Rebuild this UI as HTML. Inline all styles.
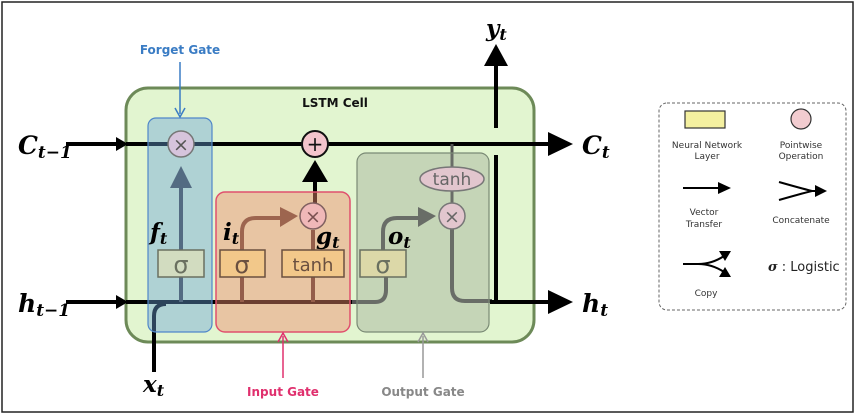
<!DOCTYPE html>
<html><head><meta charset="utf-8"><style>
html,body{margin:0;padding:0;background:#fff;width:856px;height:415px;overflow:hidden}
svg{display:block}
text{font-family:"DejaVu Sans","Liberation Sans",sans-serif}
.m{font-family:"DejaVu Serif","Liberation Serif",serif;font-weight:bold;font-style:italic}
</style></head><body>
<svg width="856" height="415" viewBox="0 0 856 415">
<rect x="2" y="2" width="851" height="410" fill="#fff" stroke="#222" stroke-width="1.5"/>
<!-- cell -->
<rect x="126" y="88" width="408" height="254" rx="22" fill="#e2f5d0" stroke="#6d8a58" stroke-width="3"/>
<text x="335" y="107" font-size="12" font-weight="bold" text-anchor="middle" fill="#111">LSTM Cell</text>
<!-- C line -->
<line x1="66" y1="144" x2="118" y2="144" stroke="#000" stroke-width="4"/>
<path d="M116,137L128,144L116,151z" fill="#000"/>
<line x1="126" y1="144" x2="552" y2="144" stroke="#000" stroke-width="4"/>
<path d="M548,132L573,144L548,156z" fill="#000"/>
<!-- h in -->
<line x1="66" y1="302" x2="118" y2="302" stroke="#000" stroke-width="4"/>
<path d="M116,295L128,302L116,309z" fill="#000"/>
<line x1="126" y1="302" x2="352" y2="302" stroke="#000" stroke-width="4"/>
<path d="M352,302H375Q386,302 386,290V276" fill="none" stroke="#555" stroke-width="4"/>
<!-- x_t -->
<path d="M154,372V316Q154,304 166,304" fill="none" stroke="#000" stroke-width="4"/>
<!-- forget -->
<line x1="181" y1="302" x2="181" y2="185" stroke="#444" stroke-width="4"/>
<path d="M170,188L181,166L192,188z" fill="#444"/>
<!-- input -->
<path d="M242,302V250" stroke="#4a3a30" stroke-width="4"/>
<path d="M242,250V232Q242,218 256,218H285" fill="none" stroke="#5a4638" stroke-width="4"/>
<path d="M280,207L298,216L280,227z" fill="#5a4638"/>
<path d="M313,302V230" stroke="#4a3a30" stroke-width="4"/>
<line x1="315" y1="203" x2="315" y2="178" stroke="#000" stroke-width="4"/>
<path d="M302,182L315,160L328,182z" fill="#000"/>
<!-- output -->
<path d="M383,250V232Q383,218 397,218H420" fill="none" stroke="#555" stroke-width="4"/>
<path d="M418,207L436,216L418,227z" fill="#555"/>
<line x1="452" y1="144" x2="452" y2="203" stroke="#555" stroke-width="3"/>
<path d="M452,229V288Q452,301 465,301H492" fill="none" stroke="#555" stroke-width="4"/>
<line x1="496" y1="155" x2="496" y2="302" stroke="#000" stroke-width="4"/>
<line x1="490" y1="302" x2="552" y2="302" stroke="#000" stroke-width="4"/>
<path d="M548,290L573,302L548,314z" fill="#000"/>
<line x1="496" y1="128" x2="496" y2="62" stroke="#000" stroke-width="4"/>
<path d="M484,66L496,44L508,66z" fill="#000"/>
<!-- gate boxes -->
<rect x="148" y="118" width="64" height="214" rx="8" fill="#6aa3d8" fill-opacity="0.42" stroke="#4f86c9" stroke-width="1.2"/>
<rect x="216" y="192" width="134" height="140" rx="9" fill="#f08c6c" fill-opacity="0.45" stroke="#e0506e" stroke-width="1.5"/>
<rect x="357" y="153" width="132" height="179" rx="9" fill="#8e9a8a" fill-opacity="0.35" stroke="#7a8a75" stroke-width="1.2"/>
<!-- layer boxes -->
<rect x="158" y="250" width="46" height="27" fill="#d2dcc0" stroke="#6a7060" stroke-width="1.5"/>
<text x="181" y="273" font-size="24" text-anchor="middle" fill="#6a7060">σ</text>
<rect x="220" y="250" width="45" height="27" fill="#f2c88a" stroke="#6a5040" stroke-width="1.5"/>
<text x="242" y="273" font-size="24" text-anchor="middle" fill="#6a5040">σ</text>
<rect x="282" y="250" width="62" height="27" fill="#f2c88a" stroke="#6a5040" stroke-width="1.5"/>
<text x="313" y="271" font-size="18" text-anchor="middle" fill="#6a5040">tanh</text>
<rect x="360" y="250" width="46" height="27" fill="#dcd8a8" stroke="#6a7060" stroke-width="1.5"/>
<text x="383" y="273" font-size="24" text-anchor="middle" fill="#6a7060">σ</text>
<!-- ops -->
<circle cx="181" cy="144" r="13" fill="#d6c4dc" stroke="#777" stroke-width="1.5"/>
<text x="181" y="151" font-size="19" text-anchor="middle" fill="#555">×</text>
<circle cx="315" cy="144" r="13" fill="#f4c4cc" stroke="#111" stroke-width="2"/>
<text x="315" y="151" font-size="20" text-anchor="middle" fill="#111">+</text>
<circle cx="313" cy="216" r="13" fill="#f0b8b8" stroke="#806060" stroke-width="1.5"/>
<text x="313" y="223" font-size="19" text-anchor="middle" fill="#7a5050">×</text>
<circle cx="452" cy="216" r="13" fill="#e2c6ce" stroke="#777" stroke-width="1.5"/>
<text x="452" y="223" font-size="19" text-anchor="middle" fill="#666">×</text>
<ellipse cx="452" cy="179" rx="32" ry="12" fill="#e2c6ce" stroke="#777" stroke-width="1.5"/>
<text x="452" y="185" font-size="17" text-anchor="middle" fill="#666">tanh</text>
<!-- math labels -->
<text class="m" x="18" y="154" font-size="25">C<tspan font-size="17" dy="4">t−1</tspan></text>
<text class="m" x="18" y="312" font-size="25">h<tspan font-size="17" dy="4">t−1</tspan></text>
<text class="m" x="582" y="154" font-size="25">C<tspan font-size="17" dy="4">t</tspan></text>
<text class="m" x="582" y="312" font-size="25">h<tspan font-size="17" dy="4">t</tspan></text>
<text class="m" x="486" y="36" font-size="23">y<tspan font-size="16" dy="4">t</tspan></text>
<text class="m" x="143" y="392" font-size="23">x<tspan font-size="16" dy="4">t</tspan></text>
<text class="m" x="150" y="240" font-size="23">f<tspan font-size="16" dy="4">t</tspan></text>
<text class="m" x="223" y="240" font-size="23">i<tspan font-size="16" dy="4">t</tspan></text>
<text class="m" x="316" y="244" font-size="23">g<tspan font-size="16" dy="4">t</tspan></text>
<text class="m" x="388" y="244" font-size="23">o<tspan font-size="16" dy="4">t</tspan></text>
<!-- gate labels -->
<text x="180" y="54" font-size="12" font-weight="bold" text-anchor="middle" fill="#3a7cc4">Forget Gate</text>
<line x1="180" y1="62" x2="180" y2="114" stroke="#3a7cc4" stroke-width="1.5"/>
<path d="M175,108L180,117L185,108" fill="none" stroke="#3a7cc4" stroke-width="1.5"/>
<text x="283" y="396" font-size="12" font-weight="bold" text-anchor="middle" fill="#e0306e">Input Gate</text>
<line x1="283" y1="378" x2="283" y2="336" stroke="#e0306e" stroke-width="1.5"/>
<path d="M278,342L283,333L288,342" fill="none" stroke="#e0306e" stroke-width="1.5"/>
<text x="423" y="396" font-size="12" font-weight="bold" text-anchor="middle" fill="#888">Output Gate</text>
<line x1="423" y1="378" x2="423" y2="336" stroke="#999" stroke-width="1.5"/>
<path d="M418,342L423,333L428,342" fill="none" stroke="#999" stroke-width="1.5"/>
<!-- legend -->
<rect x="659" y="103" width="187" height="207" rx="8" fill="#fff" stroke="#666" stroke-width="1" stroke-dasharray="3,2"/>
<rect x="685" y="111" width="40" height="17" fill="#f4f0a0" stroke="#333" stroke-width="1.2"/>
<circle cx="801" cy="119" r="10" fill="#f2ccd0" stroke="#333" stroke-width="1.2"/>
<g font-size="9" fill="#333" text-anchor="middle">
<text x="707" y="148">Neural Network</text><text x="707" y="159">Layer</text>
<text x="801" y="148">Pointwise</text><text x="801" y="159">Operation</text>
<text x="704" y="215">Vector</text><text x="704" y="227">Transfer</text>
<text x="801" y="223">Concatenate</text>
<text x="706" y="296">Copy</text>
</g>
<line x1="683" y1="188" x2="722" y2="188" stroke="#000" stroke-width="2"/>
<path d="M718,182L731,188L718,194z" fill="#000"/>
<path d="M779,182Q800,188 812,191M779,200Q800,194 812,191H818" fill="none" stroke="#000" stroke-width="2"/>
<path d="M815,185L827,191L815,197z" fill="#000"/>
<path d="M683,264H698Q712,264 724,256M698,264Q712,264 724,272" fill="none" stroke="#000" stroke-width="2"/>
<path d="M719,251L731,251L725,261z" fill="#000"/>
<path d="M719,277L731,277L725,267z" fill="#000"/>
<text x="768" y="271" font-size="13" fill="#222"><tspan class="m">σ</tspan> : Logistic</text>
</svg>
</body></html>
